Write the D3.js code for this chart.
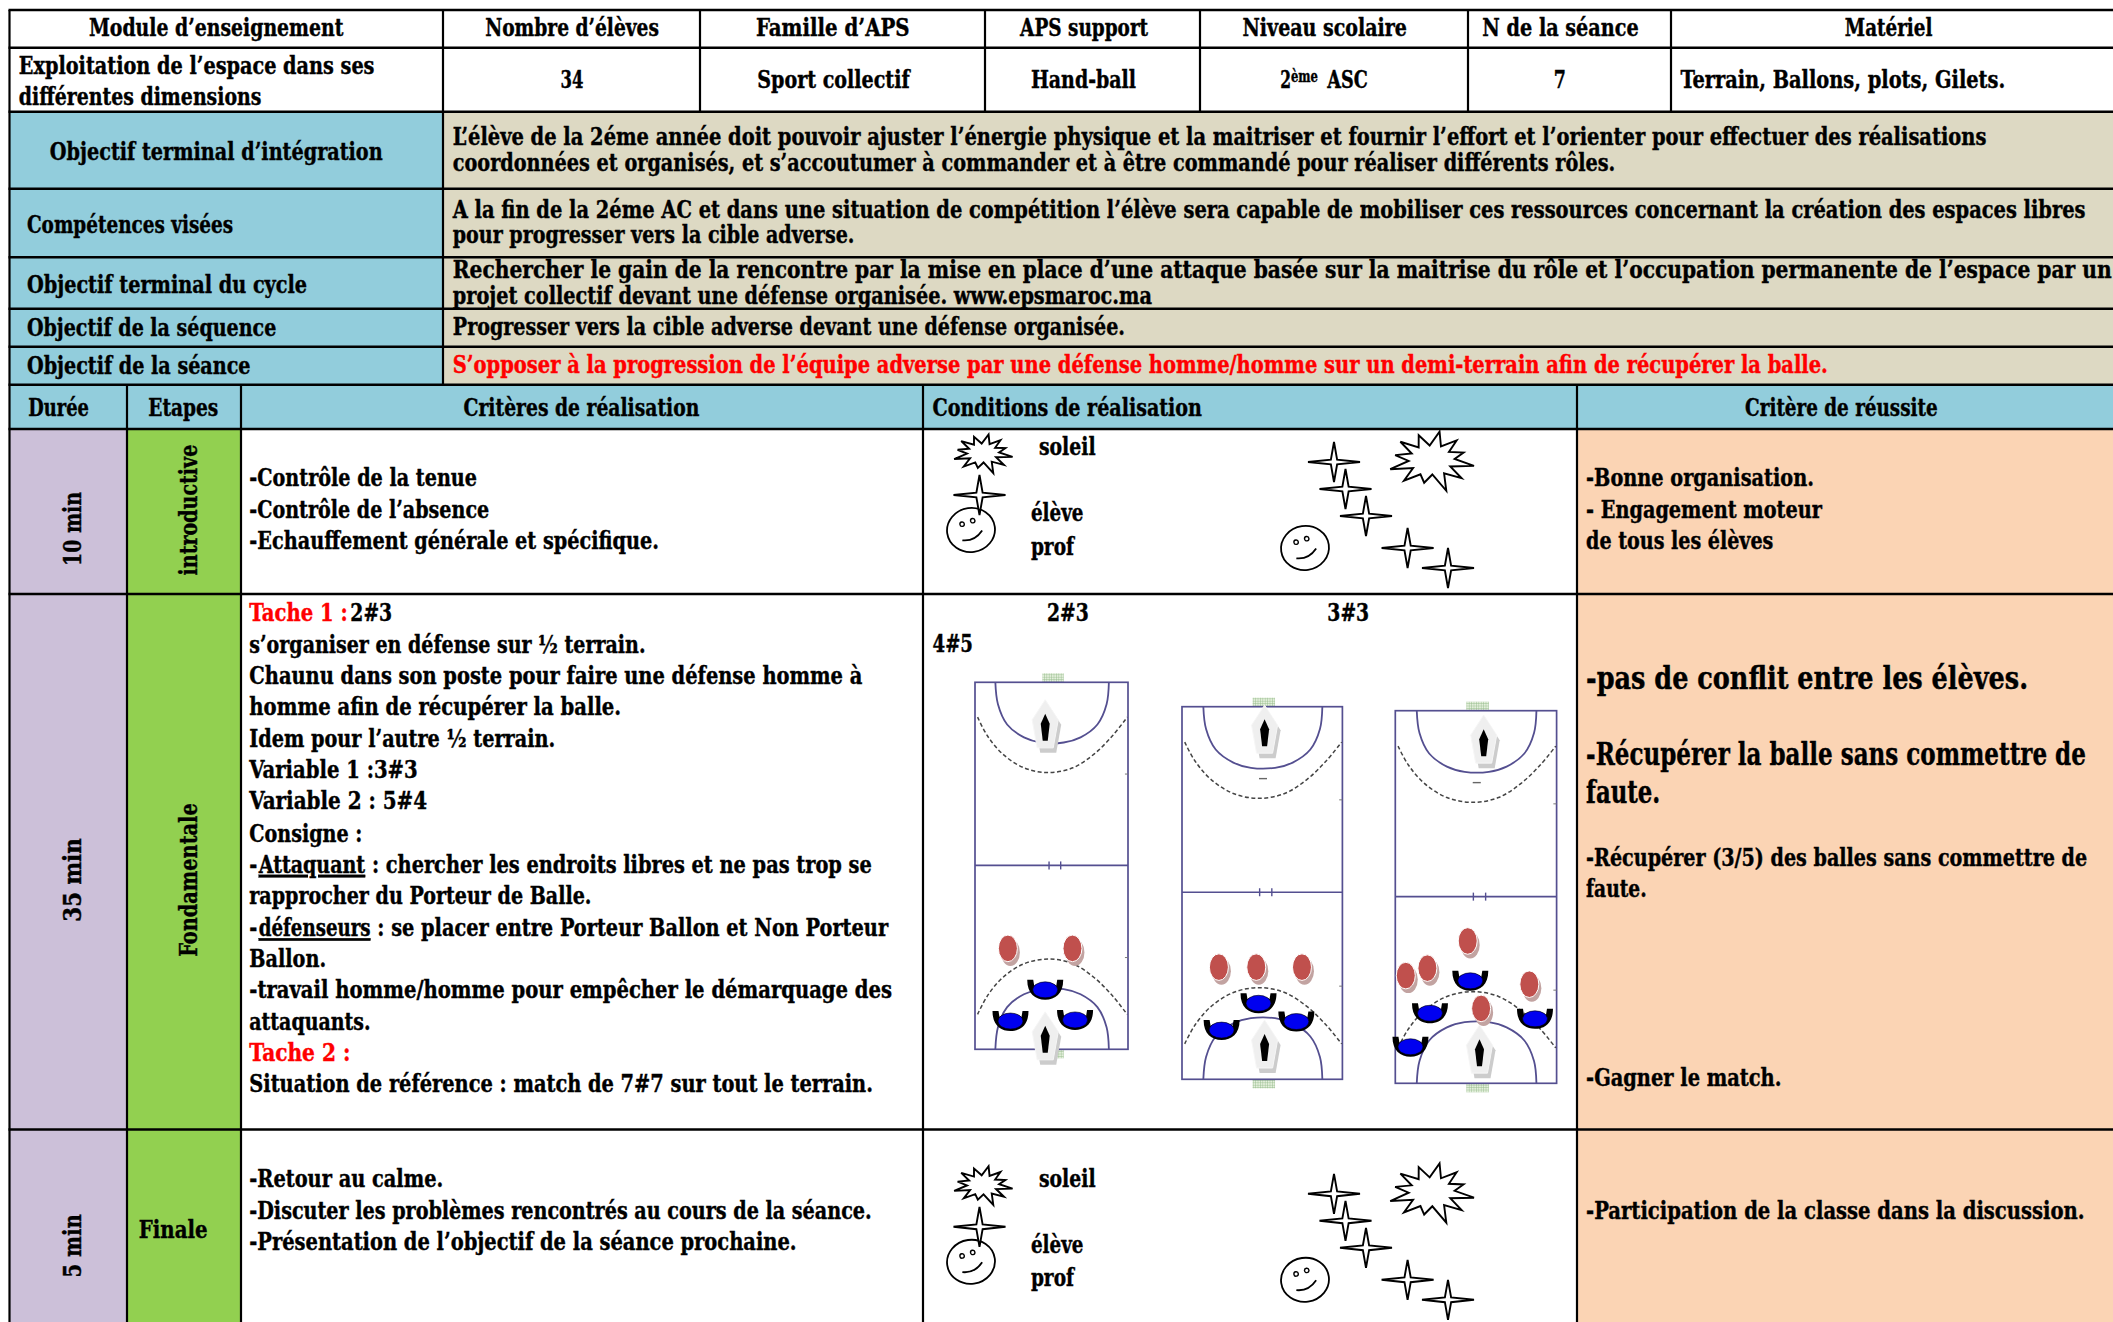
<!DOCTYPE html>
<html><head><meta charset="utf-8">
<script src="https://cdn.jsdelivr.net/npm/d3@7/dist/d3.min.js"></script>
<style>html,body{margin:0;padding:0;background:#fff;overflow:hidden}svg{display:block}
text{font-family:"DejaVu Serif";font-stretch:condensed;font-weight:700;fill:#000;stroke:#000;stroke-width:.3px}</style></head><body>
<script>
// ---------- content ----------
const headLabels=["Module d’enseignement","Nombre d’élèves","Famille d’APS","APS support","Niveau scolaire","N de la séance","Matériel"];
const infoLabels=["34","Sport collectif","Hand-ball","7","Terrain, Ballons, plots, Gilets."];
const moduleLines=["Exploitation de l’espace dans ses","différentes dimensions"];
const objectiveLabels=["Objectif terminal d’intégration","Compétences visées","Objectif terminal du cycle","Objectif de la séquence","Objectif de la séance"];
const objectiveLines=[
"L’élève de la 2éme année doit pouvoir ajuster l’énergie physique et la maitriser et fournir l’effort et l’orienter pour effectuer des réalisations",
"coordonnées et organisés, et s’accoutumer à commander et à être commandé pour réaliser différents rôles.",
"A la fin de la 2éme AC et dans une situation de compétition l’élève sera capable de mobiliser ces ressources concernant la création des espaces libres",
"pour progresser vers la cible adverse.",
"Rechercher le gain de la rencontre par la mise en place d’une attaque basée sur la maitrise du rôle et l’occupation permanente de l’espace par un",
"projet collectif devant une défense organisée. www.epsmaroc.ma",
"Progresser vers la cible adverse devant une défense organisée.",
"S’opposer à la progression de l’équipe adverse par une défense homme/homme sur un demi-terrain afin de récupérer la balle."];
const tableHead=["Durée","Etapes","Critères de réalisation","Conditions de réalisation","Critère de réussite"];
const durations=["10 min","35 min","5 min"];
const phases=["introductive","Fondamentale"];
const criteriaIntro=["-Contrôle de la tenue","-Contrôle de l’absence","-Echauffement générale et spécifique."];
const successIntro=["-Bonne organisation.","- Engagement moteur","de tous les élèves"];
const taskLines=["s’organiser en défense sur ½ terrain.","Chaunu dans son poste pour faire une défense homme à","homme afin de récupérer la balle.","Idem pour l’autre ½ terrain.","Variable 1 :3#3","Variable 2 : 5#4","Consigne :"];
const criteriaEnd=["-Retour au calme.","-Discuter les problèmes rencontrés au cours de la séance.","-Présentation de l’objectif de la séance prochaine."];
const legendWords=["soleil","élève","prof"];
// players per court, in percent of court width / length
const redPlayers=[[[21.5,72.5],[63.7,72.5]],[[23,69.9],[46.3,69.9],[74.8,69.9]],[[44.9,61.8],[19.9,69.1],[6.5,71.1],[83.1,73.4],[53.2,79.9]]];
const bluePlayers=[[[45.9,83.8],[23.2,92.3],[65.4,92]],[[47.7,79.6],[24.7,86.8],[71.3,84.5]],[[46.5,72.5],[21.5,81.2],[86.6,82.7],[9.4,90.2]]];
const keepers=[[[45.9,11.6],[45.9,96.6]],[[51.5,6.3],[51.5,90.8]],[[54.8,7.9],[52.2,91.1]]];
const sixMetre=[[13.3,0],[15,6],[21,11.5],[32,15],[43,16.4],[58,16.4],[69,15],[80,11.5],[86,6],[87.5,0]];
const nineMetre=[[1.7,9.5],[8,14.5],[18,19.5],[32,23.3],[48,24.6],[64,23.3],[78,19.5],[90,14.5],[99.5,9.5]];

// ---------- layout ----------
const W=2113,H=1322,k=W/1568;
const svg=d3.select("body").append("svg").attr("width",W).attr("height",H).attr("viewBox",`0 0 ${W} ${H}`);
const defs=svg.append("defs");
const pat=defs.append("pattern").attr("id","net").attr("width",2.4).attr("height",2.4).attr("patternUnits","userSpaceOnUse");
pat.append("rect").attr("width",2.4).attr("height",2.4).attr("fill","#e4efdc");
pat.append("path").attr("d","M0,0H2.4M0,0V2.4").attr("stroke","#8fb884").attr("stroke-width",.8);
const pg=svg.append("g"), art=svg.append("g"), doc=svg.append("g").attr("transform",`scale(${k})`);
const BL=9.5;
const blue="#92CDDC",tan="#DDD9C3",lilac="#CCC0D9",green="#92D050",peach="#FBD4B4";
const y0=[10,47.7,111.7,188.7,257.3,308.7,346.7,384.7,429,594,1129.5,1340];
const cellData=[
 [BL,443,2,3,blue],[BL,443,3,4,blue],[BL,443,4,5,blue],[BL,443,5,6,blue],[BL,443,6,7,blue],
 [443,W+5,2,3,tan],[443,W+5,3,4,tan],[443,W+5,4,5,tan],[443,W+5,5,6,tan],[443,W+5,6,7,tan],
 [BL,W+5,7,8,blue],
 [BL,127,8,9,lilac],[BL,127,9,10,lilac],[BL,127,10,11,lilac],
 [127,241,8,9,green],[127,241,9,10,green],[127,241,10,11,green],
 [1577,W+5,8,9,peach],[1577,W+5,9,10,peach],[1577,W+5,10,11,peach]];
pg.selectAll("rect").data(cellData).join("rect")
 .attr("x",d=>d[0]).attr("width",d=>d[1]-d[0]).attr("y",d=>y0[d[2]]).attr("height",d=>y0[d[3]]-y0[d[2]]).attr("fill",d=>d[4]);
const hLines=y0.slice(0,11);
pg.selectAll("line.h").data(hLines).join("line").attr("class","h").attr("x1",BL-1).attr("x2",W+5).attr("y1",d=>d).attr("y2",d=>d).attr("stroke","#000").attr("stroke-width",2.6);
const vSegs=[[BL,10,1340],[443,10,384.7],[700,10,111.7],[985,10,111.7],[1200,10,111.7],[1468,10,111.7],[1671,10,111.7],[127,384.7,1340],[241,384.7,1340],[923,384.7,1340],[1577,384.7,1340]];
pg.selectAll("line.v").data(vSegs).join("line").attr("class","v").attr("x1",d=>d[0]).attr("x2",d=>d[0]).attr("y1",d=>d[1]).attr("y2",d=>d[2]).attr("stroke","#000").attr("stroke-width",2.2);

// every label is squeezed horizontally to the width it has in the document
function put(t,x,base,x2,o={}){
 const el=doc.append("text").text(t).attr("font-size",o.fs||18.5);
 const L=el.node().getComputedTextLength();
 el.attr("transform",`translate(${x},${base+.6}) scale(${(x2-x)/L},1)`);
 if(o.fill)el.style("fill",o.fill).style("stroke",o.fill);
 if(o.u)el.style("text-decoration","underline");
 return el;
}
function vert(t,x,yBottom,yTop,o={}){
 const el=doc.append("text").text(t).attr("font-size",o.fs||18.5);
 const L=el.node().getComputedTextLength();
 return el.attr("transform",`translate(${x},${yBottom}) rotate(-90) scale(${(yBottom-yTop)/L},1)`);
}
// header rows
[[66,255],[360,489],[561,675],[757,852],[922,1044],[1100,1216],[1369,1434]].forEach((p,i)=>put(headLabels[i],p[0],26,p[1]));
put(moduleLines[0],14,54,278);put(moduleLines[1],14,77,194);
[[416,433],[562,675],[765,843],[1153,1162],[1247,1488]].forEach((p,i)=>put(infoLabels[i],p[0],65,p[1]));
put("2",950,65,958);put("ème",958,60,978,{fs:12});put("ASC",985,65,1015);
// objective rows
[[37,284,118],[20,173,172],[20,228,217],[20,205,249],[20,186,277]].forEach((p,i)=>put(objectiveLabels[i],p[0],p[2],p[1]));
[[1474,107],[1199,126],[1548,161],[634,180],[1567.5,206],[855,225],[835,248],[1357,276]].forEach((p,i)=>put(objectiveLines[i],336,p[1],p[0],i==7?{fill:"#f00"}:{}));
[[21,66],[110,162],[344,519],[692,892],[1295,1438]].forEach((p,i)=>put(tableHead[i],p[0],308,p[1]));
// side columns
vert(durations[0],60,420,365);vert(durations[1],60,684,622);vert(durations[2],60,948,901);
vert(phases[0],146,427,330);vert(phases[1],146,710,596);
put("Finale",103,918,154);
// intro row
[[354,360],[363,384],[489,407]].forEach((p,i)=>put(criteriaIntro[i],185,p[1],p[0]));
[[1346,360],[1352,384],[1316,407]].forEach((p,i)=>put(successIntro[i],1177,p[1],p[0]));
// legends
[[771,813,337],[765,804,386],[765,797,411]].forEach((p,i)=>put(legendWords[i],p[0],p[2],p[1]));
[[771,813,880],[765,804,929],[765,797,954]].forEach((p,i)=>put(legendWords[i],p[0],p[2],p[1]));
// main task
put("Tache 1 :",185,460,258,{fill:"#f00"});put("2#3",260,460,291);
[[479,484],[640,507],[461,530],[412,554],[310,577],[317,600],[269,624]].forEach((p,i)=>put(taskLines[i],185,p[1],p[0]));
put("-",185,647,191);put("Attaquant",192,647,271,{u:1});put(": chercher les endroits libres et ne pas trop se",276,647,647);
put("rapprocher du Porteur de Balle.",185,670,439);
put("-",185,694,191);put("défenseurs",192,694,275,{u:1});put(": se placer entre Porteur Ballon et Non Porteur",280,694,659);
put("Ballon.",185,717,242);
put("-travail homme/homme pour empêcher le démarquage des",185,740,662);
put("attaquants.",185,764,275);
put("Tache 2 :",185,787,260,{fill:"#f00"});
put("Situation de référence : match de 7#7 sur tout le terrain.",185,810,648);
put("2#3",777,460,808);put("3#3",985,460,1016);put("4#5",692,483,722);
// success
put("-pas de conflit entre les élèves.",1177,511,1505,{fs:23});
put("-Récupérer la balle sans commettre de",1177,567,1548,{fs:23});
put("faute.",1177,595,1232,{fs:23});
put("-Récupérer (3/5) des balles sans commettre de",1177,642,1549);
put("faute.",1177,665,1222);
put("-Gagner le match.",1177,805,1322);
// last row
[[329,880],[647,904],[591,927]].forEach((p,i)=>put(criteriaEnd[i],185,p[1],p[0]));
put("-Participation de la classe dans la discussion.",1177,904,1547);

// ---------- legend glyphs ----------
const burstR=[1,.52,.9,.5,.8,.55,1.02,.5,.95,.55,1.12,.5,.8,.55,.95,.5,1,.52,.85,.5,.95,.52,.9,.5];
const burst=d3.lineRadial().angle((d,i)=>i/burstR.length*2*Math.PI+.2).radius(d=>d).curve(d3.curveLinearClosed)(burstR);
const starR=[1,.17,1,.17,1,.17,1,.17];
const star=d3.lineRadial().angle((d,i)=>i/8*2*Math.PI).radius(d=>d).curve(d3.curveLinearClosed)(starR);
function glyph(d,x,y,rx,ry){art.append("path").attr("d",d).attr("transform",`translate(${x},${y}) scale(${rx},${ry})`).attr("fill","#fff").attr("stroke","#000").attr("stroke-width",1.9).attr("vector-effect","non-scaling-stroke");}
function smile(x,y){
 const g=art.append("g").attr("transform",`translate(${x},${y}) rotate(-8)`);
 g.append("ellipse").attr("rx",24).attr("ry",22).attr("fill","#fff").attr("stroke","#000").attr("stroke-width",1.8);
 [[-8,-7],[3,-9]].forEach(e=>g.append("circle").attr("cx",e[0]).attr("cy",e[1]).attr("r",2.2).attr("fill","#fff").attr("stroke","#000").attr("stroke-width",1.4));
 g.append("path").attr("d","M-10,9 Q2,12 11,2").attr("fill","none").attr("stroke","#000").attr("stroke-width",1.8);
}
[0,731.8].forEach(dy=>{  // the same legend is repeated in the intro and final rows
 glyph(burst,982.6,453+dy,30,19);
 smile(971,530+dy);
 glyph(star,979.5,495+dy,26,20);
 glyph(burst,1431,460+dy,43,29);
 smile(1305,548+dy);
 [[1334,462],[1345.5,489],[1366,516],[1407.6,548],[1448,568]].forEach(s=>glyph(star,s[0],s[1]+dy,26,20));
});

// ---------- courts ----------
const courts=[[975,1128,682.3,1049.3],[1182,1342.4,706.7,1079.3],[1395.3,1556.6,710.7,1083.3]];
const midV=[49.9,49.8,49.9];
const ink="#544f90";
courts.forEach((c,i)=>{
 const sx=d3.scaleLinear([0,100],[c[0],c[1]]), sy=d3.scaleLinear([0,100],[c[2],c[3]]), my=v=>sy(100-v);
 const g=art.append("g");
 [[c[2]-9,9],[c[3],9]].forEach(b=>{
  g.append("rect").attr("x",sx(44)).attr("width",sx(58)-sx(44)).attr("y",b[0]).attr("height",b[1]).attr("fill","url(#net)");
 });
 g.append("rect").attr("x",c[0]).attr("y",c[2]).attr("width",c[1]-c[0]).attr("height",c[3]-c[2]).attr("fill","#fff").attr("stroke",ink).attr("stroke-width",1.7);
 g.append("line").attr("x1",c[0]).attr("x2",c[1]).attr("y1",sy(midV[i])).attr("y2",sy(midV[i])).attr("stroke",ink).attr("stroke-width",1.7);
 [48.4,56].forEach(u=>g.append("line").attr("x1",sx(u)).attr("x2",sx(u)).attr("y1",sy(midV[i])-4).attr("y2",sy(midV[i])+4).attr("stroke",ink).attr("stroke-width",1.4));
 [25,75].forEach(v=>g.append("line").attr("x1",sx(98)).attr("x2",sx(100)).attr("y1",sy(v)).attr("y2",sy(v)).attr("stroke","#777").attr("stroke-width",1));
 if(i>0)g.append("line").attr("x1",sx(48)).attr("x2",sx(53)).attr("y1",sy(19.3)).attr("y2",sy(19.3)).attr("stroke","#666").attr("stroke-width",1.4);
 const top=d3.line().x(d=>sx(d[0])).y(d=>sy(d[1])).curve(d3.curveCatmullRom);
 const bot=d3.line().x(d=>sx(d[0])).y(d=>my(d[1])).curve(d3.curveCatmullRom);
 [top,bot].forEach(l=>{
  g.append("path").attr("d",l(sixMetre)).attr("fill","none").attr("stroke",ink).attr("stroke-width",1.8);
  g.append("path").attr("d",l(nineMetre)).attr("fill","none").attr("stroke","#444").attr("stroke-width",1.5).attr("stroke-dasharray","4 2.5");
 });
 keepers[i].forEach(p=>{
  const t=g.append("g").attr("transform",`translate(${sx(p[0])},${sy(p[1])})`);
  const pent="M0,-25 L13,-5 L8,23 L-8,23 L-13,-5 Z";
  t.append("path").attr("d",pent).attr("transform","translate(3,5)").attr("fill","#ccc");
  t.append("path").attr("d",pent).attr("fill","#efefef").attr("stroke","#f6f6f6");
  t.append("path").attr("d","M0,-11 L4.5,-1 L2.5,16 L-2.5,16 L-4.5,-1 Z").attr("fill","#000");
 });
 const rg=g.selectAll("g.r").data(redPlayers[i]).join("g").attr("class","r").attr("transform",d=>`translate(${sx(d[0])},${sy(d[1])})`);
 rg.append("ellipse").attr("cx",2.5).attr("cy",4).attr("rx",9.5).attr("ry",13.5).attr("fill","#c2a3a1");
 rg.append("ellipse").attr("rx",9.5).attr("ry",13.3).attr("fill","#C0504D").attr("stroke","#fff").attr("stroke-width",1);
 const bg=g.selectAll("g.b").data(bluePlayers[i]).join("g").attr("class","b").attr("transform",d=>`translate(${sx(d[0])},${sy(d[1])})`);
 bg.append("path").attr("d","M-18,-10 C-18,4 -10,10 0,10 C10,10 18,4 18,-10 L12,-10 L11,-4 C8,-8 -8,-8 -11,-4 L-12,-10 Z").attr("fill","#000");
 bg.append("ellipse").attr("cy",0).attr("rx",12.5).attr("ry",8).attr("fill","#0000f0").attr("stroke","#000").attr("stroke-width",.6);
});
</script></body></html>
